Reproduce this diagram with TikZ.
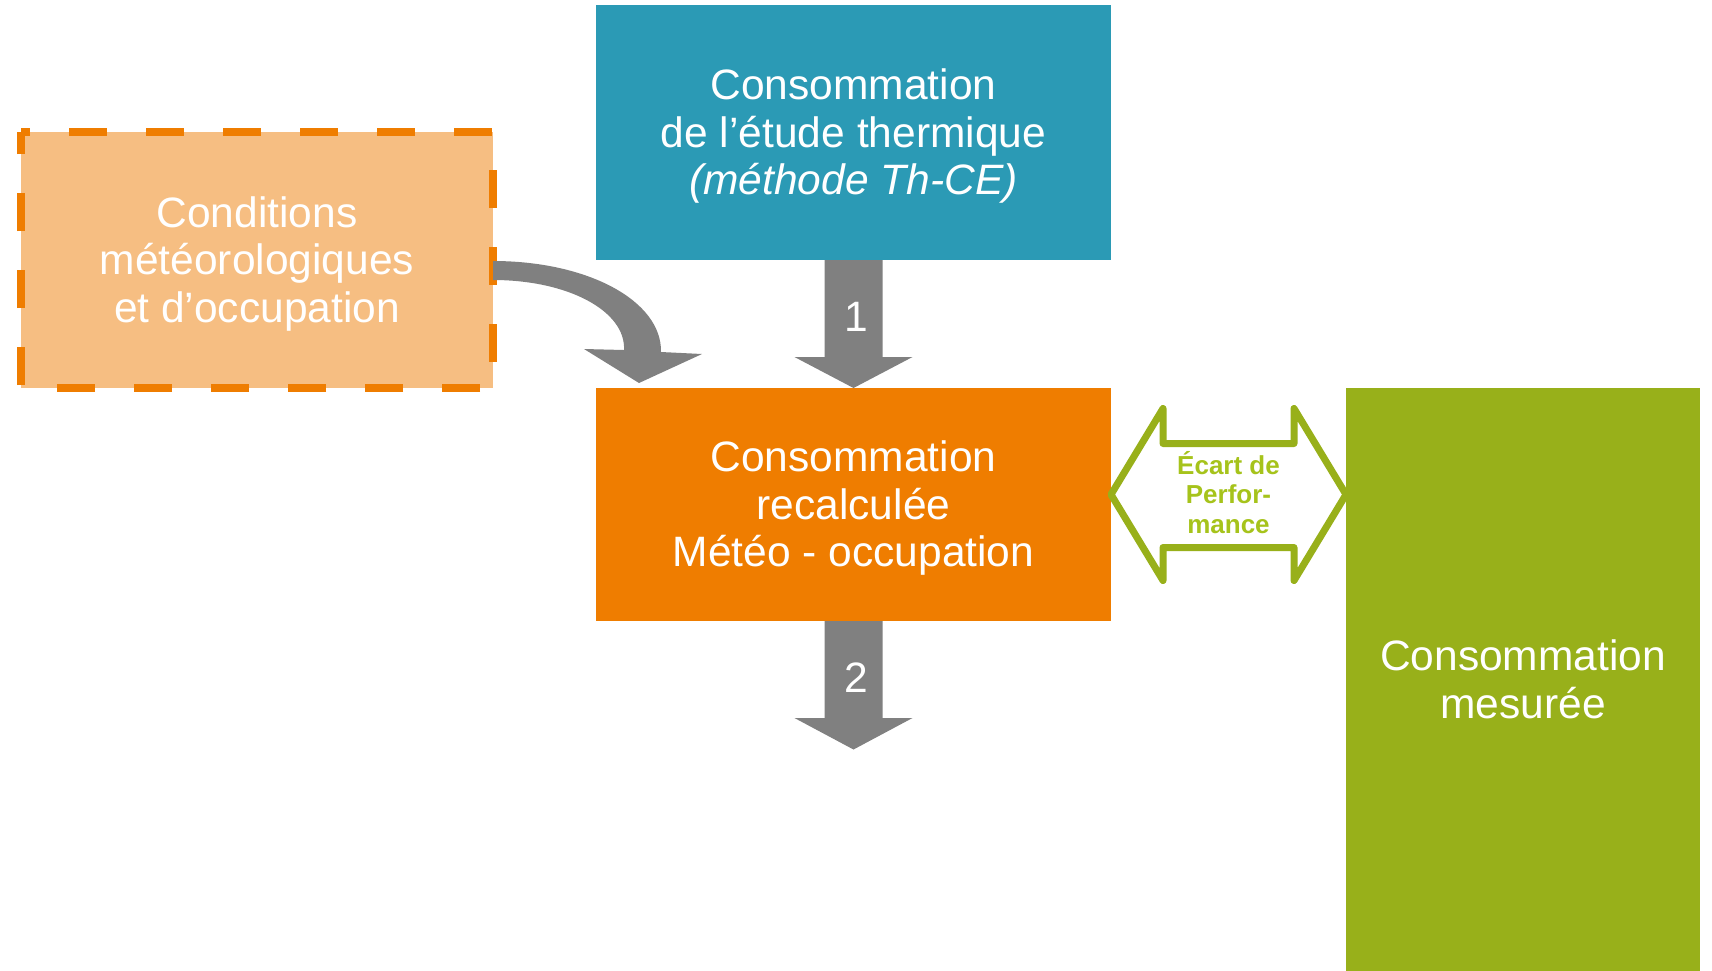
\documentclass[tikz,border=0pt]{standalone}
\usepackage{fontspec}
\setmainfont{Liberation Sans}
\usetikzlibrary{calc}
\definecolor{cteal}{HTML}{2B9AB5}
\definecolor{corange}{HTML}{EF7D00}
\definecolor{clight}{HTML}{F6BE82}
\definecolor{cgreen}{HTML}{98B01A}
\definecolor{cgreentext}{HTML}{A6C31B}
\definecolor{cgray}{HTML}{808080}
\newcommand{\lstrut}{\rule[-0.212em]{0pt}{1.117em}}
\tikzset{
  boxstyle/.style={rectangle, inner sep=0pt, outer sep=0pt, align=center, text=white,
    font=\fontsize{21.25}{23.75}\selectfont},
  dashborder/.style={draw=corange, line width=4pt, line join=round,
    dash pattern=on 19pt off 19.5pt, dash phase=14.5pt},
  blockarrow/.style={fill=cgray},
  numlabel/.style={text=white, font=\fontsize{21.25}{23.75}\selectfont, inner sep=0pt},
  ecartarrow/.style={draw=cgreen, line width=3.5pt, line join=round, fill=white},
  ecartlabel/.style={text=cgreentext, align=center, inner sep=0pt,
    font=\bfseries\fontsize{13}{14.75}\selectfont}
}
\begin{document}
\begin{tikzpicture}[x=0.5pt,y=-0.5pt]
\useasboundingbox (0,0) rectangle (1712,970);
\fill[white] (0,0) rectangle (1712,970);

% boxes
\node[boxstyle, fill=cteal, minimum width=257.5pt, minimum height=127.5pt] (teal) at (853.5,132.5)
  {\lstrut Consommation\\\lstrut de l’étude thermique\\\itshape\lstrut(méthode Th-CE)};
\node[boxstyle, fill=corange, minimum width=257.5pt, minimum height=116.5pt] (recalc) at (853.5,504.5)
  {\lstrut Consommation\\\lstrut recalculée\\\lstrut Météo - occupation};
\node[boxstyle, fill=clight, minimum width=236pt, minimum height=128pt] (cond) at (257,260)
  {\lstrut Conditions\\\lstrut météorologiques\\\lstrut et d’occupation};
\draw[dashborder] (cond.north west) -- (cond.north east) -- (cond.south east)
  -- (cond.south west) -- cycle;
\node[boxstyle, fill=cgreen, minimum width=177pt, minimum height=292pt] (mesure) at (1523,680)
  {\lstrut Consommation\\\lstrut mesurée};

% arrow 1
\coordinate (a1) at (teal.south);
\fill[blockarrow] ($(a1)+(-29,0)$) -- ($(a1)+(29,0)$) -- ($(a1)+(29,97)$) -- ($(a1)+(59,97)$)
  -- (recalc.north) -- ($(a1)+(-59,97)$) -- ($(a1)+(-29,97)$) -- cycle;
\node[numlabel] (n1) at ($(a1)+(3,57)$) {1};

% arrow 2 (free end)
\coordinate (a2) at (recalc.south);
\coordinate (a2tip) at ($(a2)+(0,128.5)$);
\fill[blockarrow] ($(a2)+(-29,0)$) -- ($(a2)+(29,0)$) -- ($(a2)+(29,97)$) -- ($(a2)+(59,97)$)
  -- (a2tip) -- ($(a2)+(-59,97)$) -- ($(a2)+(-29,97)$) -- cycle;
\node[numlabel] (n2) at ($(a2)+(3,57)$) {2};

% curved arrow from conditions to recalculated box
\coordinate (cs) at ([yshift=-0.5pt]cond.east);
\coordinate (ctip) at ($(recalc.north west)+(43,-5)$);
\fill[blockarrow] (cs) .. controls ($(cs)+(95,0)$) and ($(cs)+(169,40)$) .. ($(cs)+(168,91)$)
  -- ($(cs)+(209,93)$) -- (ctip) -- ($(cs)+(91,88)$) -- ($(cs)+(131,89)$)
  .. controls ($(cs)+(133,50)$) and ($(cs)+(75,19)$) .. ($(cs)+(0,19)$) -- cycle;

% double arrow : ecart de performance
\coordinate (dl) at ([yshift=5pt]recalc.east);
\coordinate (dr) at (dl -| mesure.west);
\draw[ecartarrow] (dl) -- ($(dl)+(52,-86)$) -- ($(dl)+(52,-51)$) -- ($(dr)+(-52,-51)$)
  -- ($(dr)+(-52,-86)$) -- (dr) -- ($(dr)+(-52,86)$) -- ($(dr)+(-52,53)$)
  -- ($(dl)+(52,53)$) -- ($(dl)+(52,86)$) -- cycle;
\node[ecartlabel] (ecart) at ($(dl)!0.5!(dr)$) {\lstrut Écart de\\\lstrut Perfor-\\\lstrut mance};
\end{tikzpicture}
\end{document}
